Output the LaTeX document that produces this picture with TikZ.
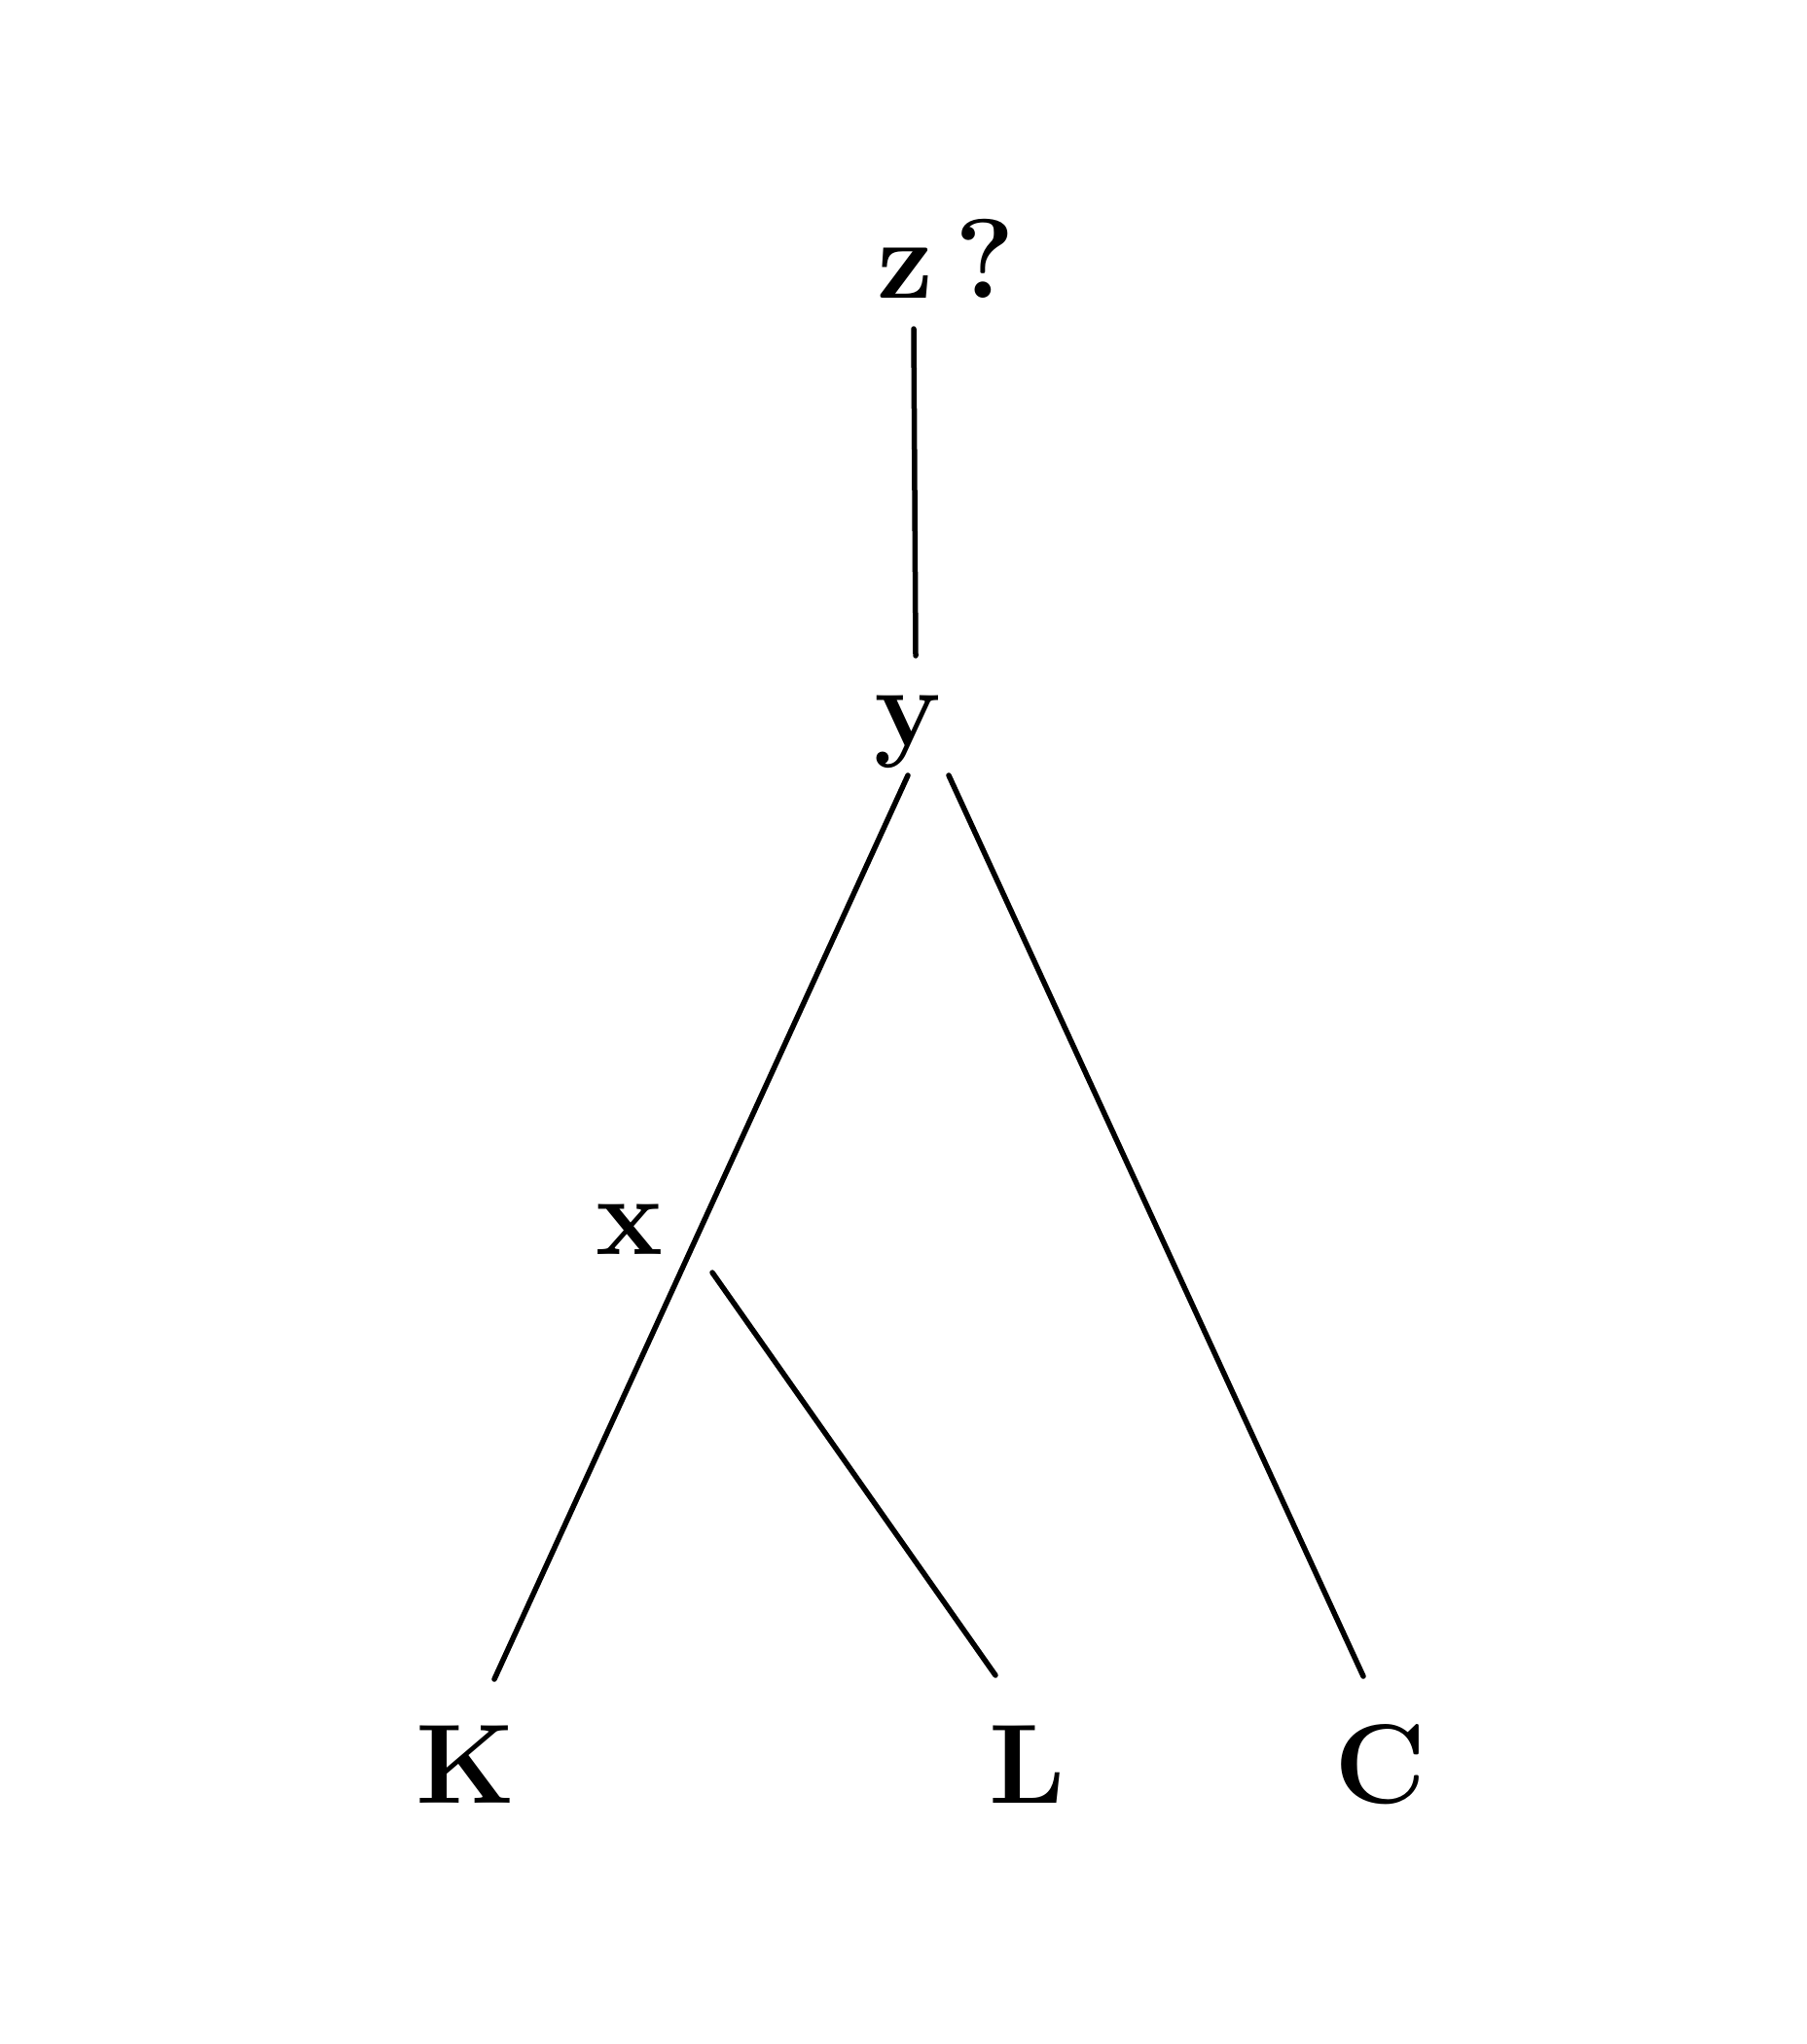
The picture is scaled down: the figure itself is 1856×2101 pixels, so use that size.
\documentclass[tikz,border=0pt]{standalone}
\usepackage{fontspec}
\begin{document}
\begin{tikzpicture}[x=1pt,y=-1pt,
  lbl/.style={anchor=base,inner sep=0pt,font=\fontsize{116}{130}\selectfont\bfseries},
  edge/.style={line width=5.5pt,line cap=round}]
\useasboundingbox (0,0) rectangle (1856,2101);
\fill[white] (0,0) rectangle (1856,2101);
% labels
\node[lbl] (z) at (930,306) {z};
\node[lbl] (q) at (1012,306) {?};
\node[lbl] (y) at (933,766) {y};
\node[lbl] (x) at (647,1289) {x};
\node[lbl] (K) at (479,1853) {K};
\node[lbl] (L) at (1056,1853) {L};
\node[lbl] (C) at (1419,1853) {C};
% connector end points
\coordinate (zb) at (939,338);
\coordinate (yt) at (941,674);
\coordinate (yl) at (933,797);
\coordinate (yr) at (975,797);
\coordinate (xr) at (732,1308);
\coordinate (Kt) at (508,1726);
\coordinate (Lt) at (1023,1722);
\coordinate (Ct) at (1401,1723);
% connectors
\draw[edge] (zb) -- (yt);
\draw[edge] (yl) -- (Kt);
\draw[edge] (yr) -- (Ct);
\draw[edge] (xr) -- (Lt);
\end{tikzpicture}
\end{document}
